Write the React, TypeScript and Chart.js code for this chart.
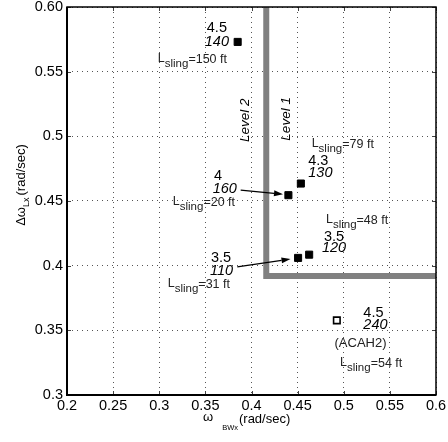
import React, { useEffect, useRef } from 'react';
import { Chart, registerables } from 'chart.js';
Chart.register(...registerables);

// ---- data ----
const xTicks = [0.2, 0.25, 0.3, 0.35, 0.4, 0.45, 0.5, 0.55, 0.6];
const xTickLabels = ['0.2', '0.25', '0.3', '0.35', '0.4', '0.45', '0.5', '0.55', '0.6'];
const yTicks = [0.3, 0.35, 0.4, 0.45, 0.5, 0.55, 0.6];
const yTickLabels = ['0.3', '0.35', '0.4', '0.45', '0.5', '0.55', '0.60'];

const pointX = [0.385, 0.44, 0.4535, 0.4505, 0.4625, 0.4925];
const pointY = [0.573, 0.4545, 0.4635, 0.406, 0.4085, 0.3577];
const pointOpen = [false, false, false, false, false, true];
const topValues = ['4.5', '4', '4.3', '3.5', '3.5', '4.5'];
const italicValues = ['140', '160', '130', '110', '120', '240'];
const slingLengths = [150, 20, 79, 31, 48, 54];
const modeNotes = ['', '', '', '', '', '(ACAH2)'];

const boundaryX = [0.416, 0.416, 0.6];
const boundaryY = [0.6, 0.392, 0.392];
const levelLabels = ['Level 2', 'Level 1'];
const levelX = [0.393, 0.4375];
const levelY = [0.5125, 0.5135];

// ---- label layout (pixel offsets from each point) ----
type L = { dx: number; dy: number; align: CanvasTextAlign };
const layout: {
  top: L; ital: L; sling: L; note?: L; arrow?: [number, number, number, number];
}[] = [
  { top: { dx: -10.7, dy: -13.6, align: 'right' }, ital: { dx: -8.7, dy: 0, align: 'right' }, sling: { dx: -10.7, dy: 21, align: 'right' } },
  { top: { dx: -74.4, dy: -19.6, align: 'left' }, ital: { dx: -75.7, dy: -6.1, align: 'left' }, sling: { dx: -53.4, dy: 10.9, align: 'right' }, arrow: [-47.7, -5.1, -5.4, -1.0] },
  { top: { dx: 7.4, dy: -22.2, align: 'left' }, ital: { dx: 7.4, dy: -10.2, align: 'left' }, sling: { dx: 10.8, dy: -35.5, align: 'left' } },
  { top: { dx: -87.1, dy: 0.5, align: 'left' }, ital: { dx: -88.1, dy: 12.7, align: 'left' }, sling: { dx: -68.1, dy: 30.5, align: 'right' }, arrow: [-60.8, 8.9, -7.6, 1.2] },
  { top: { dx: 14.8, dy: -17.9, align: 'left' }, ital: { dx: 12.8, dy: -6.3, align: 'left' }, sling: { dx: 16.8, dy: -30.6, align: 'left' } },
  { top: { dx: 26.5, dy: -7, align: 'left' }, ital: { dx: 26.5, dy: 4.7, align: 'left' }, sling: { dx: 3.2, dy: 46.7, align: 'left' }, note: { dx: 23.7, dy: 22.7, align: 'center' } },
];

const FAM = '"Liberation Sans", Arial, sans-serif';

function drawSling(ctx: CanvasRenderingContext2D, x: number, base: number, align: CanvasTextAlign, len: number) {
  const main = `12.5px ${FAM}`;
  const sub = `11.5px ${FAM}`;
  const rest = `=${len} ft`;
  ctx.font = main;
  const wL = ctx.measureText('L').width;
  const wR = ctx.measureText(rest).width;
  ctx.font = sub;
  const wS = ctx.measureText('sling').width;
  const total = wL + wS + wR;
  let sx = x;
  if (align === 'right') sx = x - total;
  else if (align === 'center') sx = x - total / 2;
  ctx.textAlign = 'left';
  ctx.textBaseline = 'alphabetic';
  ctx.fillStyle = '#222';
  ctx.font = main;
  ctx.fillText('L', sx, base - 1);
  ctx.font = sub;
  ctx.fillText('sling', sx + wL, base + 4);
  ctx.font = main;
  ctx.fillText(rest, sx + wL + wS, base);
}

function arrow(ctx: CanvasRenderingContext2D, x0: number, y0: number, x1: number, y1: number) {
  const a = Math.atan2(y1 - y0, x1 - x0);
  const hl = 9, hw = 3;
  const bx = x1 - hl * Math.cos(a), by = y1 - hl * Math.sin(a);
  ctx.strokeStyle = '#000';
  ctx.lineWidth = 1.2;
  ctx.beginPath();
  ctx.moveTo(x0, y0);
  ctx.lineTo(bx, by);
  ctx.stroke();
  ctx.fillStyle = '#000';
  ctx.beginPath();
  ctx.moveTo(x1, y1);
  ctx.lineTo(bx + hw * Math.sin(a), by - hw * Math.cos(a));
  ctx.lineTo(bx - hw * Math.sin(a), by + hw * Math.cos(a));
  ctx.closePath();
  ctx.fill();
}

const annotPlugin = {
  id: 'annot',
  afterDatasetsDraw(chart: any) {
    const { ctx, scales } = chart;
    const xs = scales.x, ys = scales.y;
    ctx.save();
    for (let i = 0; i < pointX.length; i++) {
      const px = xs.getPixelForValue(pointX[i]);
      const py = ys.getPixelForValue(pointY[i]);
      const lo = layout[i];
      ctx.fillStyle = '#000';
      ctx.textBaseline = 'middle';
      ctx.font = `14.5px ${FAM}`;
      ctx.textAlign = lo.top.align;
      ctx.fillText(topValues[i], px + lo.top.dx, py + lo.top.dy);
      ctx.font = `italic 14.5px ${FAM}`;
      ctx.textAlign = lo.ital.align;
      ctx.fillText(italicValues[i], px + lo.ital.dx, py + lo.ital.dy);
      drawSling(ctx, px + lo.sling.dx, py + lo.sling.dy, lo.sling.align, slingLengths[i]);
      if (lo.note && modeNotes[i]) {
        ctx.fillStyle = '#222';
        ctx.font = `13px ${FAM}`;
        ctx.textAlign = lo.note.align;
        ctx.textBaseline = 'middle';
        ctx.fillText(modeNotes[i], px + lo.note.dx, py + lo.note.dy);
      }
      if (lo.arrow) {
        const [a, b, c, d] = lo.arrow;
        arrow(ctx, px + a, py + b, px + c, py + d);
      }
    }
    // level labels
    ctx.fillStyle = '#000';
    ctx.font = `italic 13.5px ${FAM}`;
    ctx.textAlign = 'center';
    ctx.textBaseline = 'middle';
    for (let i = 0; i < levelLabels.length; i++) {
      const lx = xs.getPixelForValue(levelX[i]);
      const ly = ys.getPixelForValue(levelY[i]);
      ctx.save();
      ctx.translate(lx, ly);
      ctx.rotate(-Math.PI / 2);
      ctx.fillText(levelLabels[i], 0, 0);
      ctx.restore();
    }
    ctx.restore();
  },
  afterDraw(chart: any) {
    const { ctx, chartArea: ca, scales } = chart;
    ctx.save();
    // inner ticks
    ctx.strokeStyle = '#444';
    ctx.lineWidth = 1;
    ctx.beginPath();
    for (const v of xTicks) {
      const p = Math.round(scales.x.getPixelForValue(v)) + 0.5;
      ctx.moveTo(p, ca.bottom); ctx.lineTo(p, ca.bottom - 4);
      ctx.moveTo(p, ca.top); ctx.lineTo(p, ca.top + 4);
    }
    for (const v of yTicks) {
      const p = Math.round(scales.y.getPixelForValue(v)) + 0.5;
      ctx.moveTo(ca.left, p); ctx.lineTo(ca.left + 4, p);
      ctx.moveTo(ca.right, p); ctx.lineTo(ca.right - 4, p);
    }
    ctx.stroke();
    // frame
    ctx.strokeStyle = '#000';
    ctx.lineWidth = 1.5;
    ctx.strokeRect(ca.left, ca.top, ca.right - ca.left, ca.bottom - ca.top);
    ctx.lineWidth = 2;
    ctx.beginPath();
    ctx.moveTo(ca.left, ca.top);
    ctx.lineTo(ca.left, ca.bottom);
    ctx.lineTo(ca.right, ca.bottom);
    ctx.stroke();

    // axis titles
    ctx.fillStyle = '#000';
    ctx.textBaseline = 'alphabetic';
    ctx.textAlign = 'left';
    // x title
    let xx = ca.left + 136;
    const xb = ca.bottom + 28;
    ctx.font = `13px ${FAM}`;
    ctx.fillText('\u03c9', xx, xb - 2);
    xx += ctx.measureText('\u03c9').width + 9;
    ctx.font = `7.5px ${FAM}`;
    ctx.fillText('BWx', xx, xb + 7);
    xx += ctx.measureText('BWx').width + 1;
    ctx.font = `13px ${FAM}`;
    ctx.fillText('(rad/sec)', xx, xb);

    // y title (rotated)
    const mainF = `13px ${FAM}`;
    const subF = `9px ${FAM}`;
    ctx.font = mainF;
    const w1 = ctx.measureText('\u0394\u03c9').width;
    const w3 = ctx.measureText('(rad/sec)').width;
    ctx.font = subF;
    const w2 = ctx.measureText('Lx').width;
    const total = w1 + w2 + 2 + w3;
    ctx.save();
    ctx.translate(25, (ca.top + ca.bottom) / 2 - 16 + total / 2);
    ctx.rotate(-Math.PI / 2);
    ctx.font = mainF;
    ctx.fillText('\u0394\u03c9', 0, 0);
    ctx.font = subF;
    ctx.fillText('Lx', w1, 4);
    ctx.font = mainF;
    ctx.fillText('(rad/sec)', w1 + w2 + 2, 0);
    ctx.restore();
    ctx.restore();
  },
};

export default function App() {
  const ref = useRef<HTMLCanvasElement>(null);
  useEffect(() => {
    if (!ref.current) return;
    const filled = pointX.map((x, i) => ({ x, y: pointY[i] })).filter((_, i) => !pointOpen[i]);
    const open = pointX.map((x, i) => ({ x, y: pointY[i] })).filter((_, i) => pointOpen[i]);
    const boundary = boundaryX.map((x, i) => ({ x, y: boundaryY[i] }));
    const tickFont = { family: FAM, size: 14.5 };
    const chart = new Chart(ref.current, {
      type: 'scatter',
      data: {
        datasets: [
          {
            data: boundary,
            showLine: true,
            borderColor: '#808080',
            borderWidth: 6,
            pointRadius: 0,
            borderJoinStyle: 'miter',
            borderCapStyle: 'butt',
            tension: 0,
          } as any,
          {
            data: filled,
            pointStyle: 'rect',
            pointRadius: 5,
            backgroundColor: '#000',
            borderColor: '#000',
            borderWidth: 1,
          },
          {
            data: open,
            pointStyle: 'rect',
            pointRadius: 4.6,
            backgroundColor: '#fff',
            borderColor: '#000',
            borderWidth: 1.6,
          },
        ],
      },
      options: {
        responsive: false,
        animation: false,
        devicePixelRatio: 1,
        layout: { autoPadding: false, padding: { top: 7, right: 12, left: 0, bottom: 0 } },
        plugins: { legend: { display: false }, tooltip: { enabled: false } },
        scales: {
          x: {
            type: 'linear',
            min: 0.2,
            max: 0.6,
            afterBuildTicks: (s: any) => { s.ticks = xTicks.map((v) => ({ value: v })); },
            afterFit: (s: any) => { s.height = 47; s.paddingLeft = 0; s.paddingRight = 0; },
            ticks: {
              font: tickFont,
              color: '#000',
              padding: 2,
              maxRotation: 0,
              autoSkip: false,
              callback: (_v: any, i: number) => xTickLabels[i],
            },
            grid: { color: '#555', lineWidth: 1, drawTicks: false },
            border: { display: false, dash: [1, 4] },
          },
          y: {
            type: 'linear',
            min: 0.3,
            max: 0.6,
            afterBuildTicks: (s: any) => { s.ticks = yTicks.map((v) => ({ value: v })); },
            afterFit: (s: any) => { s.width = 67; s.paddingTop = 0; s.paddingBottom = 0; },
            ticks: {
              font: tickFont,
              color: '#000',
              padding: 4,
              autoSkip: false,
              callback: (_v: any, i: number) => yTickLabels[i],
            },
            grid: { color: '#555', lineWidth: 1, drawTicks: false },
            border: { display: false, dash: [1, 4] },
          },
        },
      } as any,
      plugins: [annotPlugin],
    });
    return () => chart.destroy();
  }, []);
  return (
    <div style={{ position: 'fixed', left: 0, top: 0, width: 448, height: 442, background: '#fff' }}>
      <canvas ref={ref} width={448} height={442} style={{ display: 'block' }} />
    </div>
  );
}
